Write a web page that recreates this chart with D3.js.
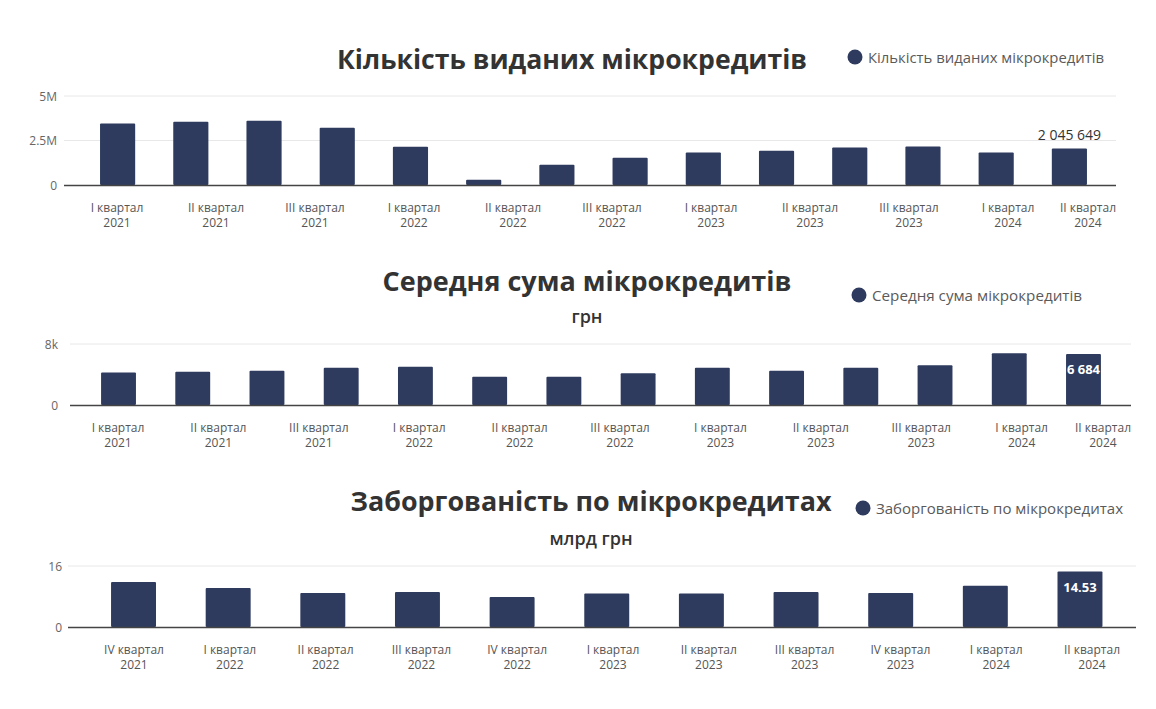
<!DOCTYPE html>
<html>
<head>
<meta charset="utf-8">
<script src="https://cdn.jsdelivr.net/npm/d3@7"></script>
<style>
  html, body { margin: 0; padding: 0; background: #ffffff; }
  svg { display: block; font-family: "Open Sans", "Noto Sans", "DejaVu Sans", sans-serif; }
</style>
</head>
<body>
<svg id="chart" width="1156" height="709"></svg>
<script>
// ---------- DATA ----------
// Chart 1: number of issued microcredits (quarters 2021 Q1 .. 2024 Q2)
const loansCategories = ["2021Q1","2021Q2","2021Q3","2021Q4","2022Q1","2022Q2","2022Q3","2022Q4","2023Q1","2023Q2","2023Q3","2023Q4","2024Q1","2024Q2"];
const loansCount = [3450000, 3550000, 3610000, 3220000, 2150000, 300000, 1140000, 1530000, 1820000, 1930000, 2100000, 2160000, 1820000, 2045649];
const loansTickLabels = [["I квартал","2021"],["II квартал","2021"],["III квартал","2021"],["I квартал","2022"],["II квартал","2022"],["III квартал","2022"],["I квартал","2023"],["II квартал","2023"],["III квартал","2023"],["I квартал","2024"],["II квартал","2024"]];
const loansYTicks = [0, 2500000, 5000000];
const loansYTickLabels = ["0", "2.5M", "5M"];

// Chart 2: average microcredit amount, UAH
const avgCategories = ["2021Q1","2021Q2","2021Q3","2021Q4","2022Q1","2022Q2","2022Q3","2022Q4","2023Q1","2023Q2","2023Q3","2023Q4","2024Q1","2024Q2"];
const avgAmount = [4250, 4370, 4500, 4900, 5020, 3720, 3720, 4150, 4900, 4500, 4900, 5200, 6800, 6684];
const avgTickLabels = [["I квартал","2021"],["II квартал","2021"],["III квартал","2021"],["I квартал","2022"],["II квартал","2022"],["III квартал","2022"],["I квартал","2023"],["II квартал","2023"],["III квартал","2023"],["I квартал","2024"],["II квартал","2024"]];
const avgYTicks = [0, 8000];
const avgYTickLabels = ["0", "8k"];

// Chart 3: microcredit debt, bn UAH
const debtCategories = ["2021Q4","2022Q1","2022Q2","2022Q3","2022Q4","2023Q1","2023Q2","2023Q3","2023Q4","2024Q1","2024Q2"];
const debtAmount = [11.8, 10.25, 8.95, 9.2, 7.9, 8.8, 8.8, 9.2, 8.95, 10.85, 14.53];
const debtTickLabels = [["IV квартал","2021"],["I квартал","2022"],["II квартал","2022"],["III квартал","2022"],["IV квартал","2022"],["I квартал","2023"],["II квартал","2023"],["III квартал","2023"],["IV квартал","2023"],["I квартал","2024"],["II квартал","2024"]];
const debtYTicks = [0, 16];
const debtYTickLabels = ["0", "16"];

// ---------- DRAWING ----------
const BAR = "#2e3b5e";
const svg = d3.select("#chart");

function drawChart(cfg) {
  const g = svg.append("g");
  // title
  g.append("text")
    .attr("x", cfg.titleX).attr("y", cfg.titleY)
    .attr("text-anchor", "middle").attr("dominant-baseline", "central")
    .attr("font-size", 27).attr("font-weight", 700).attr("fill", "#333333")
    .attr("textLength", cfg.titleW).attr("lengthAdjust", "spacingAndGlyphs")
    .text(cfg.title);
  if (cfg.subtitle) {
    g.append("text")
      .attr("x", cfg.titleX).attr("y", cfg.subY)
      .attr("text-anchor", "middle").attr("dominant-baseline", "central")
      .attr("font-size", 18).attr("font-weight", 600).attr("fill", "#333333")
      .text(cfg.subtitle);
  }
  // legend
  g.append("circle").attr("cx", cfg.legX).attr("cy", cfg.legY).attr("r", 7.5).attr("fill", BAR);
  g.append("text")
    .attr("x", cfg.legX + 13).attr("y", cfg.legY)
    .attr("dominant-baseline", "central")
    .attr("font-size", 14).attr("fill", "#5a5a5a")
    .attr("textLength", cfg.legW).attr("lengthAdjust", "spacingAndGlyphs")
    .text(cfg.title);

  const y = d3.scaleLinear().domain([0, cfg.yMax]).range([cfg.y0, cfg.yTop]);
  const x = d3.scaleBand().domain(cfg.categories).range(cfg.barRange)
    .paddingInner(cfg.pad).paddingOuter(cfg.pad / 2);

  // gridlines + y labels
  cfg.yTicks.forEach((t, i) => {
    if (t !== 0) {
      g.append("line")
        .attr("x1", cfg.axisX[0]).attr("x2", cfg.axisX[1])
        .attr("y1", y(t)).attr("y2", y(t))
        .attr("stroke", "#e8e8e8").attr("stroke-width", 1);
    }
    g.append("text")
      .attr("x", cfg.tickRight).attr("y", y(t))
      .attr("text-anchor", "end").attr("dominant-baseline", "central")
      .attr("font-size", 12).attr("fill", "#666666")
      .text(cfg.yTickLabels[i]);
  });

  // bars
  g.selectAll("rect.bar").data(cfg.values).enter().append("rect")
    .attr("class", "bar")
    .attr("x", (d, i) => x(cfg.categories[i]))
    .attr("width", x.bandwidth())
    .attr("y", d => y(d))
    .attr("height", d => cfg.y0 - y(d))
    .attr("fill", BAR)
    .attr("rx", 1);

  // axis baseline
  g.append("line")
    .attr("x1", cfg.axisX[0]).attr("x2", cfg.axisX[1])
    .attr("y1", cfg.y0 + 0.5).attr("y2", cfg.y0 + 0.5)
    .attr("stroke", "#444444").attr("stroke-width", 1.3);

  // x labels
  const lx = d3.scalePoint().domain(d3.range(cfg.tickLabels.length)).range(cfg.labelRange);
  cfg.tickLabels.forEach((lbl, i) => {
    const t = g.append("text")
      .attr("text-anchor", "middle")
      .attr("font-size", 12).attr("fill", "#555555");
    t.append("tspan").attr("x", 0).attr("y", cfg.labY).text(lbl[0]);
    t.append("tspan").attr("x", 0).attr("y", cfg.labY + 15).text(lbl[1]);
    let cx = lx(i);
    const w = t.node().getBBox().width;
    if (cx + w / 2 > cfg.axisX[1]) cx = cfg.axisX[1] - w / 2;
    t.attr("transform", `translate(${cx},0)`);
  });

  // data label on last bar
  const li = cfg.values.length - 1;
  const lv = cfg.values[li];
  const bx = x(cfg.categories[li]) + x.bandwidth() / 2;
  if (cfg.labelInside) {
    g.append("text")
      .attr("x", bx).attr("y", y(lv) + 15)
      .attr("text-anchor", "middle").attr("dominant-baseline", "central")
      .attr("font-size", 13).attr("font-weight", 700).attr("fill", "#ffffff")
      .text(cfg.labelFmt(lv));
  } else {
    g.append("text")
      .attr("x", bx).attr("y", y(lv) - 9)
      .attr("text-anchor", "middle")
      .attr("font-size", 14).attr("fill", "#333333")
      .text(cfg.labelFmt(lv));
  }
}

const spaceFmt = v => d3.format(",")(Math.round(v)).replace(/,/g, " ");

drawChart({
  title: "Кількість виданих мікрокредитів", titleX: 572, titleY: 58, titleW: 470,
  legX: 855, legY: 57, legW: 236,
  categories: loansCategories, values: loansCount,
  yMax: 5000000, yTop: 96, y0: 185, yTicks: loansYTicks, yTickLabels: loansYTickLabels,
  tickRight: 57, axisX: [64, 1116], barRange: [81, 1106], pad: 0.52,
  tickLabels: loansTickLabels, labelRange: [117, 1107], labY: 212,
  labelInside: false, labelFmt: spaceFmt
});

drawChart({
  title: "Середня сума мікрокредитів", titleX: 587, titleY: 280, titleW: 409,
  subtitle: "грн", subY: 316,
  legX: 859, legY: 295, legW: 210,
  categories: avgCategories, values: avgAmount,
  yMax: 8000, yTop: 344, y0: 405, yTicks: avgYTicks, yTickLabels: avgYTickLabels,
  tickRight: 58, axisX: [70, 1131], barRange: [81.4, 1120.6], pad: 0.53,
  tickLabels: avgTickLabels, labelRange: [118, 1122], labY: 432,
  labelInside: true, labelFmt: spaceFmt
});

drawChart({
  title: "Заборгованість по мікрокредитах", titleX: 591, titleY: 500, titleW: 481,
  subtitle: "млрд грн", subY: 538,
  legX: 863, legY: 508, legW: 247,
  categories: debtCategories, values: debtAmount,
  yMax: 16, yTop: 566, y0: 627, yTicks: debtYTicks, yTickLabels: debtYTickLabels,
  tickRight: 62, axisX: [68, 1136], barRange: [86.2, 1127.3], pad: 0.525,
  tickLabels: debtTickLabels, labelRange: [134, 1092], labY: 654,
  labelInside: true, labelFmt: v => d3.format(".2f")(v)
});
</script>
</body>
</html>
